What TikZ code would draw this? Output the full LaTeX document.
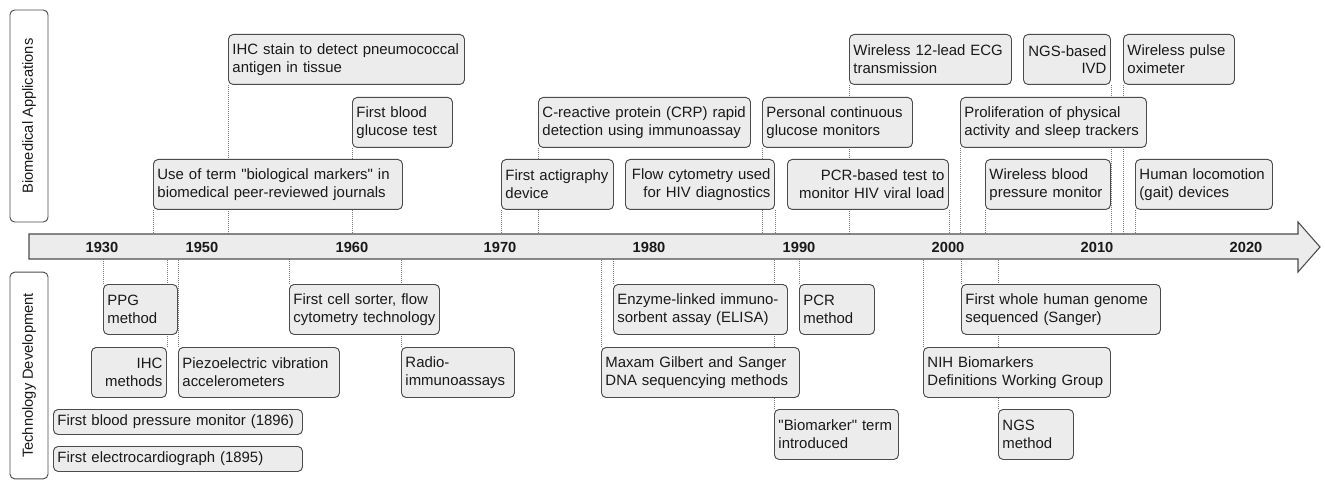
\documentclass[tikz,border=0pt]{standalone}
\usepackage{fontspec}
\setmainfont{Liberation Sans}
\usetikzlibrary{backgrounds}
\definecolor{boxline}{RGB}{75,75,75}
\definecolor{boxfill}{RGB}{236,236,236}
\definecolor{tickline}{RGB}{120,120,120}

\begin{document}
\begin{tikzpicture}[x=0.75pt,y=-0.75pt,
        evt/.style={draw=boxline,fill=boxfill,line width=0.7pt,rounded corners=3.5pt,anchor=north west,
            inner xsep=3pt,inner ysep=1pt,minimum height=37.5pt,align=left,text=black!90,
            font=\fontsize{11.2}{13.3}\selectfont},
        evtr/.style={evt,align=right},
        evtone/.style={evt,minimum height=18.75pt},
        lane/.style={draw=boxline,line width=0.7pt,rounded corners=3.5pt,rotate=90,minimum height=28.5pt,
            text=black!90,font=\fontsize{11}{13}\selectfont},
        yr/.style={text=black!90,font=\bfseries\fontsize{11}{13}\selectfont},
        tick/.style={tickline,densely dotted,line width=0.5pt}]

    \useasboundingbox (0,0) rectangle (1325,481);

    %\draw [help lines,step=50] (0,0) grid (1325,481);

    % time axis
    \draw[boxline,fill=boxfill,line width=0.8pt]
        (29,234) -- (1298,234) -- (1298,222) -- (1320,247) -- (1298,272) -- (1298,259) -- (29,259) -- cycle;
    \coordinate (axtop) at (0,234);
    \coordinate (axbot) at (0,259);

    \path   (102,247) node (y1930) [yr] {1930}
            (202,247) node (y1950) [yr] {1950}
            (352,247) node (y1960) [yr] {1960}
            (500,247) node (y1970) [yr] {1970}
            (649,247) node (y1980) [yr] {1980}
            (799,247) node (y1990) [yr] {1990}
            (948,247) node (y2000) [yr] {2000}
            (1097,247) node (y2010) [yr] {2010}
            (1246,247) node (y2020) [yr] {2020};

    % lanes
    \path   (29,116) node (bio) [lane,minimum width=159pt] {Biomedical Applications}
            (29,375.5) node (tech) [lane,minimum width=155pt] {Technology Development};

    % biomedical applications
    \path   (228,34) node (ihcstain) [evt,text width=171pt] {IHC stain to detect pneumococcal\\antigen in tissue}
            (352,97) node (glucose) [evt,text width=69pt] {First blood\\glucose test}
            (153,159) node (bioterm) [evt,text width=180.75pt] {Use of term \textquotedbl biological markers\textquotedbl{} in\\biomedical peer-reviewed journals}
            (538,97) node (crp) [evt,text width=153pt] {C-reactive protein (CRP) rapid\\detection using immunoassay}
            (501,159) node (actigraph) [evt,text width=78pt] {First actigraphy\\device}
            (625,159) node (flowhiv) [evtr,text width=105.75pt] {Flow cytometry used\\for HIV diagnostics}
            (762,97) node (cgm) [evt,text width=106.5pt] {Personal continuous\\glucose monitors}
            (849,34) node (ecg) [evt,text width=115.5pt] {Wireless 12-lead ECG\\transmission}
            (787,159) node (pcrhiv) [evtr,text width=114.75pt] {PCR-based test to\\monitor HIV viral load}
            (1023,34) node (ngsivd) [evtr,text width=59.25pt] {NGS-based\\IVD}
            (1123,34) node (pulseox) [evt,text width=77.25pt] {Wireless pulse\\oximeter}
            (960,97) node (trackers) [evt,text width=133.5pt] {Proliferation of physical\\activity and sleep trackers}
            (985,159) node (wbp) [evt,text width=87.75pt] {Wireless blood\\pressure monitor}
            (1135,159) node (gait) [evt,text width=96.75pt] {Human locomotion\\(gait) devices};

    % technology development
    \path   (103,284) node (ppg) [evt,text width=49.5pt] {PPG\\method}
            (91,347) node (ihcmeth) [evtr,text width=50.25pt] {IHC\\methods}
            (178,347) node (piezo) [evt,text width=114.75pt] {Piezoelectric vibration\\accelerometers}
            (289,284) node (sorter) [evt,text width=106.5pt] {First cell sorter, flow\\cytometry technology}
            (401,347) node (ria) [evt,text width=78.75pt] {Radio-\\immunoassays}
            (53,409) node (bpmon) [evtone,text width=180.75pt] {First blood pressure monitor (1896)}
            (53,446) node (ecgraph) [evtone,text width=180.75pt] {First electrocardiograph (1895)}
            (613,284) node (elisa) [evt,text width=124.5pt] {Enzyme-linked immuno-\\sorbent assay (ELISA)}
            (601,347) node (maxam) [evt,text width=142.5pt] {Maxam Gilbert and Sanger\\DNA sequencying methods}
            (799,284) node (pcr) [evt,text width=50.25pt] {PCR\\method}
            (774,409) node (bmterm) [evt,text width=87pt] {\textquotedbl Biomarker\textquotedbl{} term\\introduced}
            (961,284) node (genome) [evt,text width=143.25pt] {First whole human genome\\sequenced (Sanger)}
            (923,347) node (nih) [evt,text width=134.25pt] {NIH Biomarkers\\Definitions Working Group}
            (998,409) node (ngs) [evt,text width=50.25pt] {NGS\\method};

    % dotted drop lines
    \begin{scope}[on background layer]
        \foreach \n/\c in {ihcstain/south west,glucose/south west,bioterm/south west,crp/south west,
                actigraph/south west,flowhiv/south east,cgm/south west,ecg/south west,pcrhiv/south east,
                ngsivd/south east,pulseox/south west,trackers/south west,wbp/south west,gait/south west}
            \draw[tick] (\n.\c) -- (\n.\c |- axtop);
        \foreach \n/\c in {ppg/north west,ihcmeth/north east,piezo/north west,sorter/north west,
                ria/north west,elisa/north west,maxam/north west,pcr/north west,bmterm/north west,
                genome/north west,nih/north west,ngs/north west}
            \draw[tick] (\n.\c) -- (\n.\c |- axbot);
    \end{scope}
\end{tikzpicture}
\end{document}
